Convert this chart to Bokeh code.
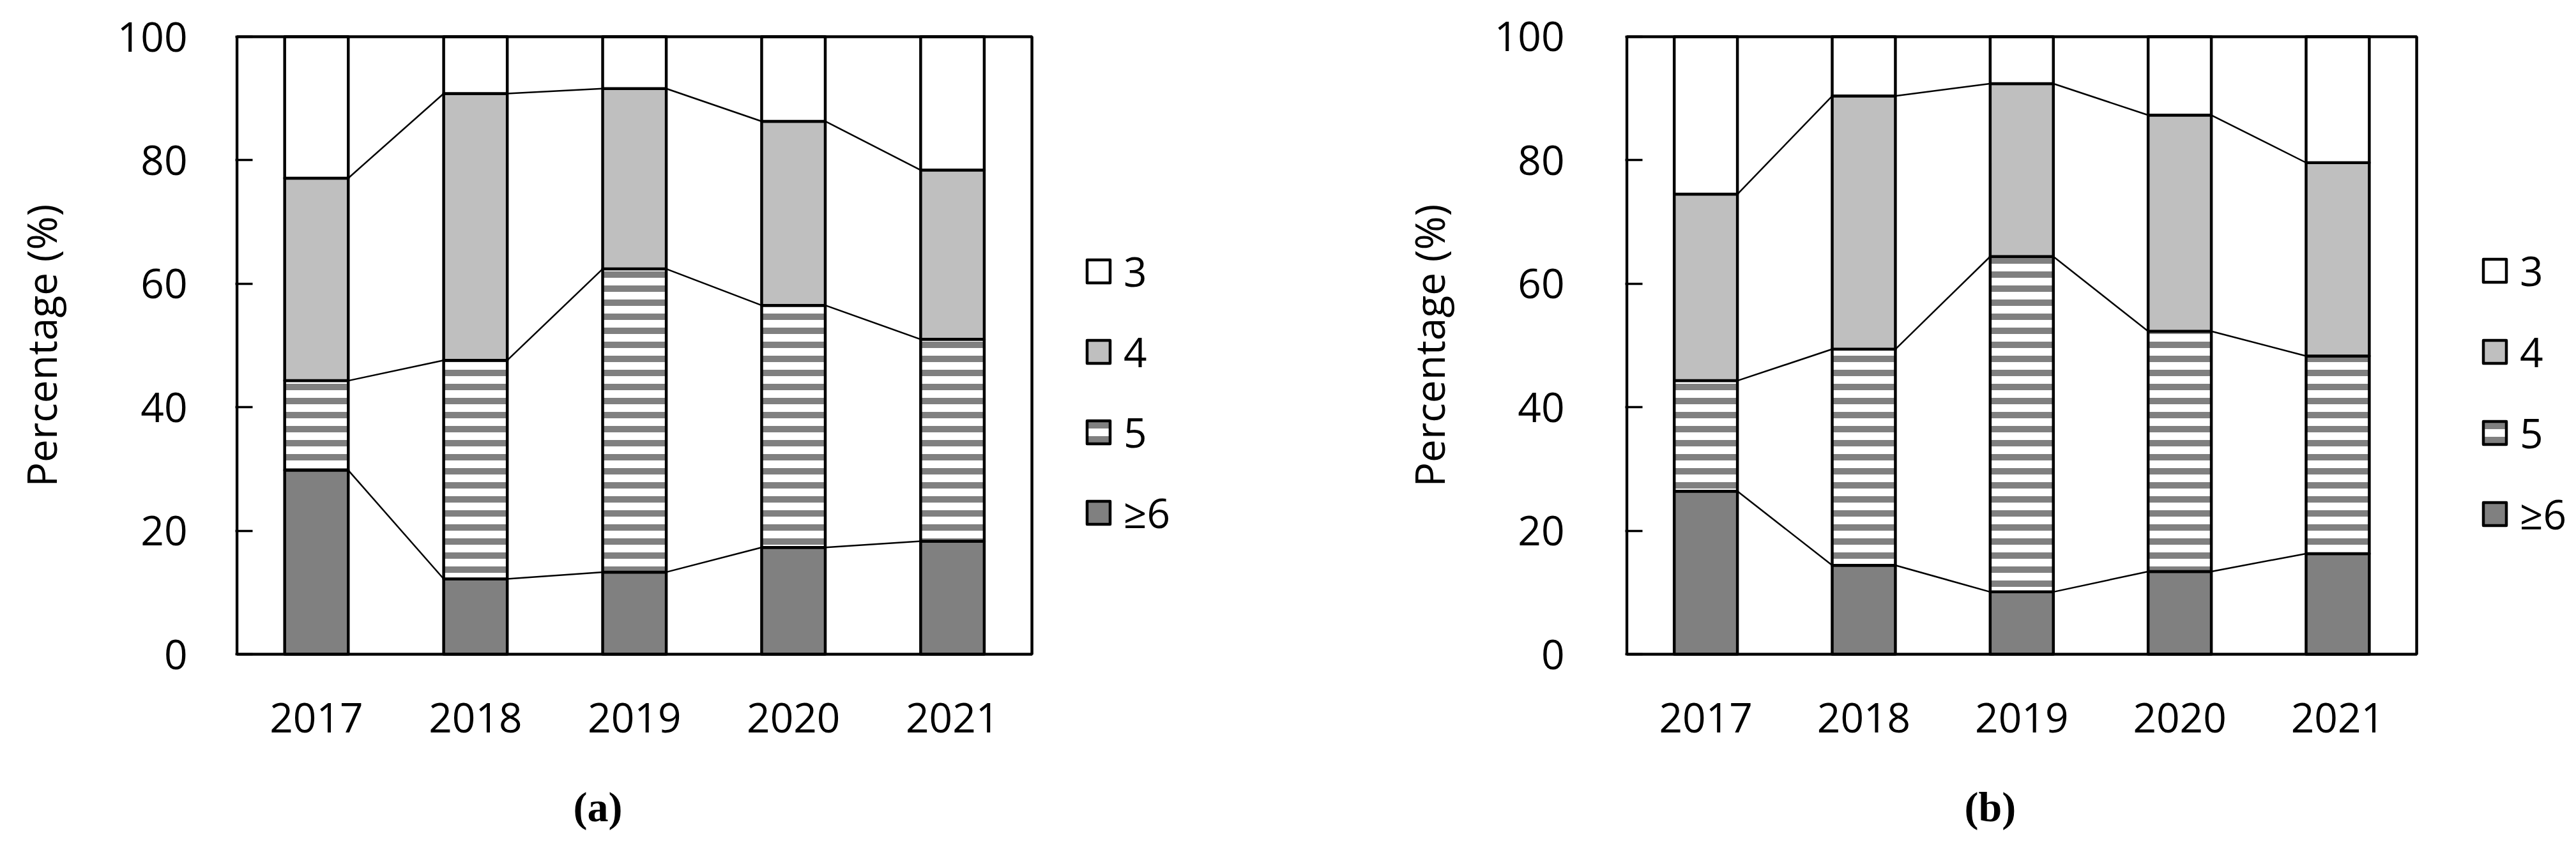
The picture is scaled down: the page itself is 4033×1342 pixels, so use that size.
import numpy as np
from bokeh.plotting import figure
from bokeh.models import Range1d, FixedTicker, Legend, LegendItem, LinearAxis
from bokeh.layouts import row
from bokeh.embed import file_html
from bokeh.resources import INLINE

# ---------------- data ----------------
years = ["2017", "2018", "2019", "2020", "2021"]
categories = ["3", "4", "5", "≥6"]
y_ticks = [0, 20, 40, 60, 80, 100]

# panel (a): percentage per category and year
a_ge6 = [29.8, 12.2, 13.3, 17.3, 18.3]
a_5 = [14.5, 35.4, 49.1, 39.2, 32.7]
a_4 = [32.8, 43.2, 29.2, 29.8, 27.4]
a_3 = [22.9, 9.2, 8.4, 13.7, 21.6]

# panel (b)
b_ge6 = [26.4, 14.4, 10.1, 13.4, 16.3]
b_5 = [17.9, 35.0, 54.3, 38.9, 32.0]
b_4 = [30.2, 41.0, 28.0, 35.0, 31.3]
b_3 = [25.5, 9.6, 7.6, 12.7, 20.4]

FONT = "Open Sans"
FS = "64px"
BAR_W = 0.4
N = len(years)


def make_panel(series, caption, width, height, box_left, box_top, box_w, box_h,
               tick_standoff, label_standoff, leg_loc, leg_spacing, cap_x):
    ge6, s5, s4, s3 = series
    # pixel layout -> ranges (the frame also holds the legend to the right)
    ux = box_w / N            # px per category
    uy = box_h / 100.0        # px per percent
    pad_x = 2.5 / ux
    pad_y = 3.0 / uy
    frame_left = box_left - 2.5
    frame_top = box_top - 3.0
    frame_w = width - frame_left
    frame_h = box_h + 6.0
    x0 = -0.5 - pad_x
    x1 = x0 + frame_w / ux
    p = figure(width=width, height=height, output_backend="svg",
               toolbar_location=None, x_range=Range1d(x0, x1),
               y_range=Range1d(-pad_y, 100 + pad_y),
               min_border_left=int(round(frame_left)),
               min_border_top=int(round(frame_top)), min_border_right=0,
               min_border_bottom=int(round(height - frame_top - frame_h)))
    p.background_fill_color = "white"
    p.border_fill_color = "white"
    p.grid.visible = False
    p.outline_line_color = None

    idx = np.arange(N)
    stack = [np.array(ge6), np.array(s5), np.array(s4), np.array(s3)]
    tops = np.cumsum(stack, axis=0)
    bottoms = tops - stack

    styles = [
        dict(fill_color="#808080"),
        dict(fill_color="white", hatch_pattern="horizontal_line",
             hatch_color="#808080", hatch_scale=22, hatch_weight=10),
        dict(fill_color="#BFBFBF"),
        dict(fill_color="white"),
    ]
    rends = []
    for k in range(4):
        r = p.vbar(x=idx, width=BAR_W, bottom=bottoms[k], top=tops[k],
                   line_color="black", line_width=4.5, line_join="round",
                   **styles[k])
        rends.append(r)

    # connector lines between bar tops of each boundary
    for k in range(3):
        p.segment(x0=idx[:-1] + BAR_W / 2, y0=tops[k][:-1],
                  x1=idx[1:] - BAR_W / 2, y1=tops[k][1:],
                  line_color="black", line_width=2.5)

    # plot box (0..100 over the five categories)
    p.quad(left=[-0.5], right=[N - 0.5], bottom=[y_ticks[0]], top=[y_ticks[-1]],
           fill_color=None, line_color="black", line_width=4.5)

    # axes
    yax = p.yaxis[0]
    yax.ticker = FixedTicker(ticks=y_ticks)
    yax.major_tick_in = 27
    yax.major_tick_out = 0
    yax.minor_tick_in = 0
    yax.minor_tick_out = 0
    yax.major_tick_line_width = 3.5
    yax.axis_line_color = None
    yax.major_label_text_font = FONT
    yax.major_label_text_font_size = FS
    yax.major_label_text_color = "black"
    yax.major_label_standoff = tick_standoff
    yax.axis_label = "Percentage (%)"
    yax.axis_label_text_font = FONT
    yax.axis_label_text_font_size = FS
    yax.axis_label_text_font_style = "normal"
    yax.axis_label_text_color = "black"
    yax.axis_label_standoff = label_standoff

    xax = p.xaxis[0]
    xax.ticker = FixedTicker(ticks=list(idx))
    xax.major_label_overrides = {int(i): y for i, y in zip(idx, years)}
    xax.major_tick_in = 0
    xax.major_tick_out = 0
    xax.minor_tick_in = 0
    xax.minor_tick_out = 0
    xax.axis_line_color = None
    xax.major_label_text_font = FONT
    xax.major_label_text_font_size = FS
    xax.major_label_text_color = "black"
    xax.major_label_standoff = 73

    # caption "(a)" / "(b)" as a second label row below the years
    cap = LinearAxis(ticker=FixedTicker(ticks=[cap_x]),
                     major_label_overrides={cap_x: caption},
                     axis_line_color=None, major_tick_line_color=None,
                     minor_tick_line_color=None, major_tick_in=0,
                     major_tick_out=0, minor_tick_in=0, minor_tick_out=0,
                     major_label_standoff=77,
                     major_label_text_font="Liberation Serif",
                     major_label_text_font_size="66px",
                     major_label_text_font_style="bold",
                     major_label_text_color="black")
    p.add_layout(cap, "below")

    # legend (3, 4, 5, >=6 top to bottom)
    items = [LegendItem(label=categories[0], renderers=[rends[3]]),
             LegendItem(label=categories[1], renderers=[rends[2]]),
             LegendItem(label=categories[2], renderers=[rends[1]]),
             LegendItem(label=categories[3], renderers=[rends[0]])]
    leg = Legend(items=items, location=leg_loc, orientation="vertical",
                 glyph_width=45, glyph_height=45, label_height=45,
                 label_standoff=17, spacing=leg_spacing, padding=0, margin=0,
                 border_line_alpha=0, background_fill_alpha=0,
                 label_text_font=FONT, label_text_font_size=FS,
                 label_text_color="black")
    p.add_layout(leg)
    return p


p1 = make_panel((a_ge6, a_5, a_4, a_3), "(a)", 2000, 1320, 370, 57, 1245, 967,
                75, 73, (1329, 181), 39, 1.77)

p2 = make_panel((b_ge6, b_5, b_4, b_3), "(b)", 2025, 1320, 546, 49, 1237, 977,
                95, 56, (1339, 179), 40, 1.80)

layout = row(p1, p2)
open("out.html", "w").write(file_html(layout, INLINE))
